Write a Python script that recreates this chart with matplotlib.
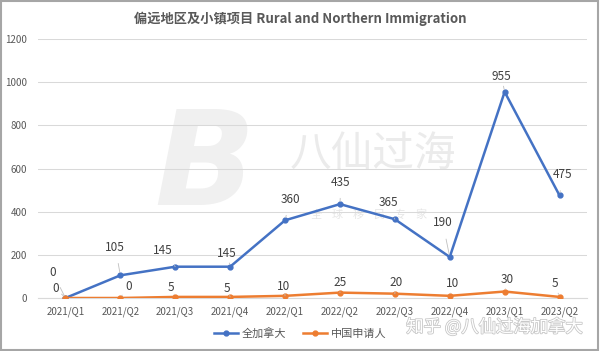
import matplotlib.pyplot as plt
import matplotlib.patheffects as pe
from matplotlib.patches import Rectangle

plt.rcParams['font.family'] = ['Noto Sans CJK SC', 'DejaVu Sans']

quarters = ['2021/Q1', '2021/Q2', '2021/Q3', '2021/Q4', '2022/Q1',
            '2022/Q2', '2022/Q3', '2022/Q4', '2023/Q1', '2023/Q2']
canada = [0, 105, 145, 145, 360, 435, 365, 190, 955, 475]
china = [0, 0, 5, 5, 10, 25, 20, 10, 30, 5]

# label offsets in pixels
canada_off = [(-13, 26), (-5, 28), (-12, 16), (-3, 13), (5, 21),
              (1, 22), (-6, 17), (-7, 34), (-3, 15), (3, 21)]
china_off = [(-10, 10), (8, 12), (-4, 9), (-3, 8), (-1, 9),
             (0, 10), (1, 11), (3, 12), (3, 12), (-5, 13)]

blue = '#4472C4'
orange = '#ED7D31'
grey = '#595959'

fig = plt.figure(figsize=(6, 3.51), dpi=100)
ax = fig.add_axes([38 / 600, 1 - 298 / 351, 549 / 600, 259 / 351])

x = list(range(len(quarters)))

# faint watermark logo, drawn under the axes
fig.text(205 / 600, 1 - 168 / 351, 'B', fontsize=95, fontweight='bold', color='#f0f0f0',
         ha='center', va='center', zorder=-1, fontstyle='italic', family='DejaVu Sans')
fig.text(373 / 600, 1 - 154 / 351, '八仙过海', fontsize=30, color='#ebebeb',
         ha='center', va='center', zorder=-1)
for i, ch in enumerate('全球移民专家'):
    fig.text((316 + i * 21) / 600, 1 - 215 / 351, ch, fontsize=8, color='#e6e6e6',
             ha='center', va='center', zorder=-1)

ax.plot(x, canada, color=blue, lw=1.8, marker='o', ms=3.5, label='全加拿大', zorder=3)
ax.plot(x, china, color=orange, lw=1.8, marker='o', ms=3.5, label='中国申请人', zorder=3)

for vals, offs in [(canada, canada_off), (china, china_off)]:
    for xi, v, (dx, dy) in zip(x, vals, offs):
        ax.annotate(str(v), (xi, v), xytext=(dx * 0.72, dy * 0.72),
                    textcoords='offset points', ha='center', va='center',
                    fontsize=8.5, color='#404040',
                    arrowprops=dict(arrowstyle='-', color='#bfbfbf', lw=0.6,
                                    shrinkA=5, shrinkB=2))

ax.set_xlim(-0.5, len(quarters) - 0.5)
ax.set_ylim(0, 1200)
ax.set_yticks(range(0, 1201, 200))
ax.set_xticks(x)
ax.set_xticklabels(quarters)
ax.tick_params(length=0, labelsize=7, colors=grey)
ax.tick_params(axis='y', pad=8)
ax.tick_params(axis='x', pad=6)
ax.grid(axis='y', color='#d9d9d9', lw=0.75)
ax.set_axisbelow(True)
for s in ['top', 'right', 'left']:
    ax.spines[s].set_visible(False)
ax.spines['bottom'].set_color('#d9d9d9')
ax.patch.set_alpha(0)

fig.text(0.5, 1 - 19 / 351, '偏远地区及小镇项目 Rural and Northern Immigration',
         ha='center', va='center', fontsize=9.5, fontweight='bold', color=grey)

fig.legend(loc='center', bbox_to_anchor=(300 / 600, 1 - 333 / 351), ncol=2,
           frameon=False, fontsize=8, handlelength=2.2, columnspacing=1.5,
           handletextpad=0.3, labelcolor=grey)

wm = fig.text(583 / 600, 1 - 327 / 351, '知乎 @八仙过海加拿大', ha='right', va='center',
              fontsize=12.5, color='white')
wm.set_path_effects([pe.withStroke(linewidth=1.2, foreground='#c8c8c8')])

fig.patches.append(Rectangle((0.002, 0.004), 0.994, 0.992, transform=fig.transFigure,
                             fill=False, edgecolor='#a6a6a6', lw=1.5))

fig.savefig('out.png', dpi=100)
